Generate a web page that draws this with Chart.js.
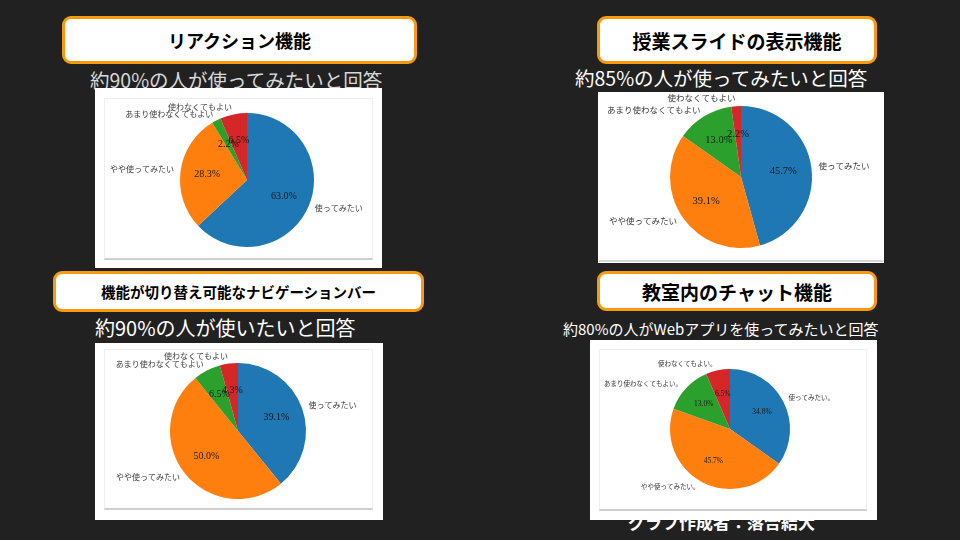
<!DOCTYPE html>
<html lang="ja">
<head>
<meta charset="utf-8">
<script src="https://cdn.jsdelivr.net/npm/chart.js@4.4.1/dist/chart.umd.min.js"></script>
<style>
  html, body { margin: 0; padding: 0; }
  body {
    width: 960px; height: 540px; overflow: hidden; position: relative;
    background: #212121;
    font-family: "Noto Sans CJK JP", "Noto Sans", sans-serif;
  }
  .title {
    position: absolute; box-sizing: border-box;
    background: #fff; border: 3px solid #f79a0c; border-radius: 9px;
    display: flex; align-items: center; justify-content: center;
    font-weight: 700; color: #000; z-index: 3;
  }
  .sub {
    position: absolute; color: #fff; white-space: nowrap;
    font-weight: 400; line-height: 1; z-index: 1;
  }
  .panel { position: absolute; background: #fff; z-index: 2; }
  .panel .frame {
    position: absolute; box-sizing: border-box;
    border: 1px solid #efefef; border-bottom: 2px solid #cfcfcf;
  }
  .panel canvas { position: absolute; left: 0; top: 0; }
  .credit {
    position: absolute; left: 628px; top: 513px; color: #fff;
    font-weight: 700; font-size: 17px; line-height: 1; z-index: 1;
  }
</style>
</head>
<body>
<div class="title" style="left:62px;top:16px;width:355px;height:48px;font-size:18px;">リアクション機能</div>
<div class="title" style="left:597px;top:16px;width:280px;height:48px;font-size:19px;">授業スライドの表示機能</div>
<div class="title" style="left:53px;top:271px;width:371px;height:41px;font-size:14.5px;">機能が切り替え可能なナビゲーションバー</div>
<div class="title" style="left:597px;top:271px;width:280px;height:40px;font-size:19px;">教室内のチャット機能</div>

<div class="sub" style="left:90px;top:70px;font-size:19.5px;color:#d8d8d8;">約90%の人が使ってみたいと回答</div>
<div class="sub" style="left:575px;top:68px;font-size:19.5px;">約85%の人が使ってみたいと回答</div>
<div class="sub" style="left:95px;top:318px;font-size:20px;">約90%の人が使いたいと回答</div>
<div class="sub" style="left:563px;top:321px;font-size:15px;">約80%の人がWebアプリを使ってみたいと回答</div>

<div class="credit">グラフ作成者：落合結大</div>

<div class="panel" id="p1" style="left:95px;top:88px;width:287px;height:180px;">
  <div class="frame" style="left:9px;top:10px;width:269px;height:162px;"></div>
  <canvas id="c1" width="287" height="180"></canvas>
</div>
<div class="panel" id="p2" style="left:598px;top:92px;width:286px;height:171px;">
  <div class="frame" style="left:0;top:0;width:286px;height:170px;border-color:#fff;border-bottom-color:#d8d8d8;"></div>
  <canvas id="c2" width="286" height="171"></canvas>
</div>
<div class="panel" id="p3" style="left:95px;top:343px;width:288px;height:177px;">
  <div class="frame" style="left:9px;top:6px;width:269px;height:161px;"></div>
  <canvas id="c3" width="288" height="177"></canvas>
</div>
<div class="panel" id="p4" style="left:590px;top:340px;width:287px;height:180px;">
  <div class="frame" style="left:9px;top:9px;width:268px;height:162px;"></div>
  <canvas id="c4" width="287" height="180"></canvas>
</div>

<script>
// categories
const answerLabels = ['使ってみたい', 'やや使ってみたい', 'あまり使わなくてもよい', '使わなくてもよい'];
const chatLabels = ['使ってみたい。', 'やや使ってみたい。', 'あまり使わなくてもよい。', '使わなくてもよい。'];

// percentages
const reactionValues = [63.0, 28.3, 2.2, 6.5];
const slideValues = [45.7, 39.1, 13.0, 2.2];
const navValues = [39.1, 50.0, 6.5, 4.3];
const chatValues = [34.8, 45.7, 13.0, 6.5];

const sliceColors = ['#1f77b4', '#ff7f0e', '#2ca02c', '#d62728'];

// matplotlib-like labels: name at 1.1r, percent at 0.6r
const pieText = {
    id: 'pieText',
    afterDatasetsDraw(chart, args, opts) {
        const ctx = chart.ctx;
        const meta = chart.getDatasetMeta(0);
        const values = chart.data.datasets[0].data;
        const family = '"Liberation Serif", "Noto Sans CJK JP", serif';
        ctx.save();
        ctx.textBaseline = 'middle';
        meta.data.forEach((arc, i) => {
            const p = arc.getProps(['x', 'y', 'startAngle', 'endAngle', 'outerRadius'], true);
            const mid = (p.startAngle + p.endAngle) / 2;
            const cos = Math.cos(mid), sin = Math.sin(mid);

            ctx.font = opts.labelSize + 'px ' + family;
            ctx.fillStyle = '#3a3a3a';
            ctx.textAlign = cos >= 0 ? 'left' : 'right';
            ctx.fillText(chart.data.labels[i], p.x + cos * p.outerRadius * 1.1, p.y + sin * p.outerRadius * 1.1);

            ctx.font = opts.pctSize + 'px ' + family;
            ctx.fillStyle = '#1a1a1a';
            ctx.textAlign = 'center';
            ctx.fillText(values[i].toFixed(1) + '%', p.x + cos * p.outerRadius * 0.6, p.y + sin * p.outerRadius * 0.6);
        });
        ctx.restore();
    }
};

// pie centre (in the canvas) and radius for each panel
function makePie(id, labels, values, box, cx, cy, r, labelSize, pctSize) {
    const ctx = document.getElementById(id).getContext('2d');
    return new Chart(ctx, {
        type: 'pie',
        data: {
            labels: labels,
            datasets: [{
                data: values,
                backgroundColor: sliceColors,
                borderWidth: 0
            }]
        },
        options: {
            responsive: false,
            animation: false,
            events: [],
            layout: {
                padding: {
                    left: cx - r,
                    top: cy - r,
                    right: box.w - cx - r,
                    bottom: box.h - cy - r
                }
            },
            plugins: {
                legend: { display: false },
                tooltip: { enabled: false },
                pieText: { labelSize: labelSize, pctSize: pctSize }
            }
        },
        plugins: [pieText]
    });
}

makePie('c1', answerLabels, reactionValues, { w: 287, h: 180 }, 152, 92, 67, 8, 10);
makePie('c2', answerLabels, slideValues, { w: 286, h: 171 }, 143, 85, 71, 8.5, 10.5);
makePie('c3', answerLabels, navValues, { w: 288, h: 177 }, 143, 88, 68, 8, 10);
makePie('c4', chatLabels, chatValues, { w: 287, h: 180 }, 140, 89, 60, 6.5, 7.5);
</script>
</body>
</html>
